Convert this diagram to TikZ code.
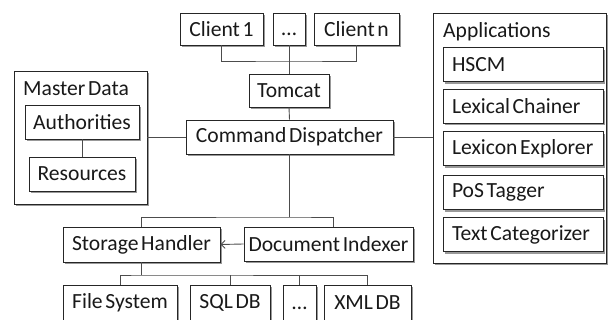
\documentclass[tikz,border=0pt]{standalone}
\usepackage{fontspec}
\setmainfont{Carlito}[WordSpace=0.55]
\usetikzlibrary{shadows,arrows.meta,calc}
\newcommand{\apptext}[1]{\makebox[142pt][l]{#1}}
\begin{document}
\begin{tikzpicture}[x=1pt,y=-1pt,
  lbl/.style={font=\fontsize{21.6}{24}\selectfont, text=black!90, inner sep=0pt},
  box/.style={lbl, draw=black!85, line width=0.9pt, fill=white,
    drop shadow={shadow xshift=2.2pt, shadow yshift=-2.2pt, fill=black, opacity=0.4}},
  appbox/.style={box, minimum width=160pt, inner xsep=9pt, minimum height=34pt},
  conn/.style={draw=black!70, line width=0.9pt}]
\useasboundingbox (0,0) rectangle (611,320);
% top clients
\node[box, minimum width=83pt, minimum height=32pt] (c1) at (221.5,29) {Client 1};
\node[box, minimum width=32pt, minimum height=32pt] (dots1) at (289,29) {\vphantom{C}…};
\node[box, minimum width=85pt, minimum height=32pt] (cn) at (356.5,29) {Client n};
\node[box, minimum width=80pt, minimum height=33pt] (tomcat) at (289,90.5) {Tomcat};
\node[box, minimum width=207pt, minimum height=34pt] (cd) at (289.5,137) {Command Dispatcher};
% master data
\node[box, minimum width=133pt, minimum height=133pt] (md) at (80.5,137.5) {};
\node[lbl, anchor=west] (mdt) at (23,89) {Master Data};
\node[box, minimum width=114pt, minimum height=34pt] (auth) at (82,122) {Authorities};
\node[box, minimum width=106pt, minimum height=34pt] (res) at (82,174) {Resources};
% applications
\node[box, minimum width=173pt, minimum height=250pt] (apps) at (519.5,138) {};
\node[lbl, anchor=west] (appt) at (443,32) {Applications};
\node[appbox] (hscm) at (523,64.5) {\apptext{HSCM}};
\node[appbox] (lc) at (523,106) {\apptext{Lexical Chainer}};
\node[appbox] (le) at (523,148.5) {\apptext{Lexicon Explorer}};
\node[appbox] (pos) at (523,192.5) {\apptext{PoS Tagger}};
\node[appbox] (tc) at (523,234.5) {\apptext{Text Categorizer}};
% storage
\node[box, minimum width=157pt, minimum height=35pt] (sh) at (141.5,244.5) {Storage Handler};
\node[box, minimum width=169pt, minimum height=34pt] (di) at (328.5,244) {Document Indexer};
\node[box, minimum width=114pt, minimum height=36pt] (fs) at (120,303) {File System};
\node[box, minimum width=80pt, minimum height=36pt] (sql) at (230,303) {SQL DB};
\node[box, minimum width=33pt, minimum height=36pt] (dots2) at (299.5,303) {\vphantom{C}…};
\node[box, minimum width=87pt, minimum height=36pt] (xml) at (367.5,303) {XML DB};
% connectors
\coordinate (cfork) at (289,61);
\draw[conn] (c1.south) |- (cfork) -| (cn.south);
\draw[conn] (dots1.south) -- (tomcat.north);
\draw[conn] (tomcat.south) -- (cd.north);
\draw[conn] (md.east |- cd.west) -- (cd.west);
\draw[conn] (cd.east) -- (cd.east -| apps.west);
\draw[conn] (auth.south) -- (res.north);
\coordinate (bfork) at (289.5,217);
\draw[conn] (cd.south) -- (bfork);
\draw[conn] (sh.north) |- (bfork) -| ([xshift=4.5pt]di.north);
\draw[conn, -{Straight Barb[length=4pt, width=8pt]}] (di.west) -- (sh.east);
\coordinate (sfork) at (141.5,275);
\draw[conn] (sh.south) -- (sfork);
\draw[conn] (fs.north) |- (sfork) -| (xml.north);
\draw[conn] (sql.north) -- (sql.north |- sfork);
\draw[conn] (dots2.north) -- (dots2.north |- sfork);
\end{tikzpicture}
\end{document}
